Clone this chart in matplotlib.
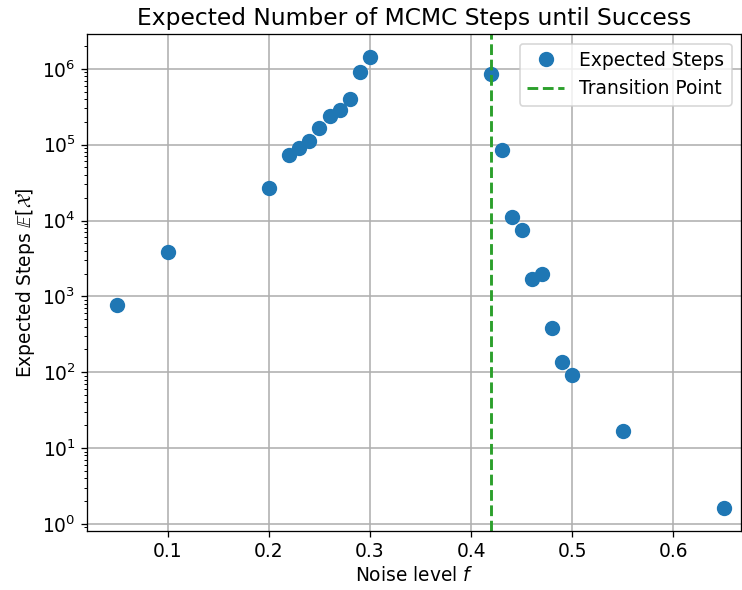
import matplotlib.pyplot as plt

# noise levels and measured expected MCMC steps
noise = [0.05, 0.10, 0.20, 0.22, 0.23, 0.24, 0.25, 0.26, 0.27, 0.28, 0.29, 0.30,
         0.42, 0.43, 0.44, 0.45, 0.46, 0.47, 0.48, 0.49, 0.50, 0.55, 0.65]
steps = [760, 3900, 27000, 72000, 91000, 113000, 166000, 241000, 290000, 405000, 910000, 1440000,
         860000, 85000, 11000, 7600, 1670, 2000, 380, 135, 92, 17, 1.6]
transition = 0.42

plt.rcParams['font.size'] = 11.6

fig = plt.figure(figsize=(742 / 116, 590 / 116), dpi=116)
ax = fig.add_axes([0.117, 0.1, 0.882, 0.842])

ax.plot(noise, steps, 'o', color='tab:blue', markersize=8.5, label='Expected Steps')
ax.axvline(transition, color='tab:green', linestyle='--', linewidth=1.8, label='Transition Point')
ax.set_yscale('log')
ax.set_xlim(0.02, 0.667)
ax.grid(True, linewidth=1.0)
ax.set_xlabel('Noise level $f$', labelpad=3)
ax.set_ylabel(r'Expected Steps $\mathbb{E}[\mathcal{X}]$', labelpad=3)
ax.set_title('Expected Number of MCMC Steps until Success', fontsize=14.5)
ax.legend(loc='upper right')

fig.savefig('out.png', dpi=116)
